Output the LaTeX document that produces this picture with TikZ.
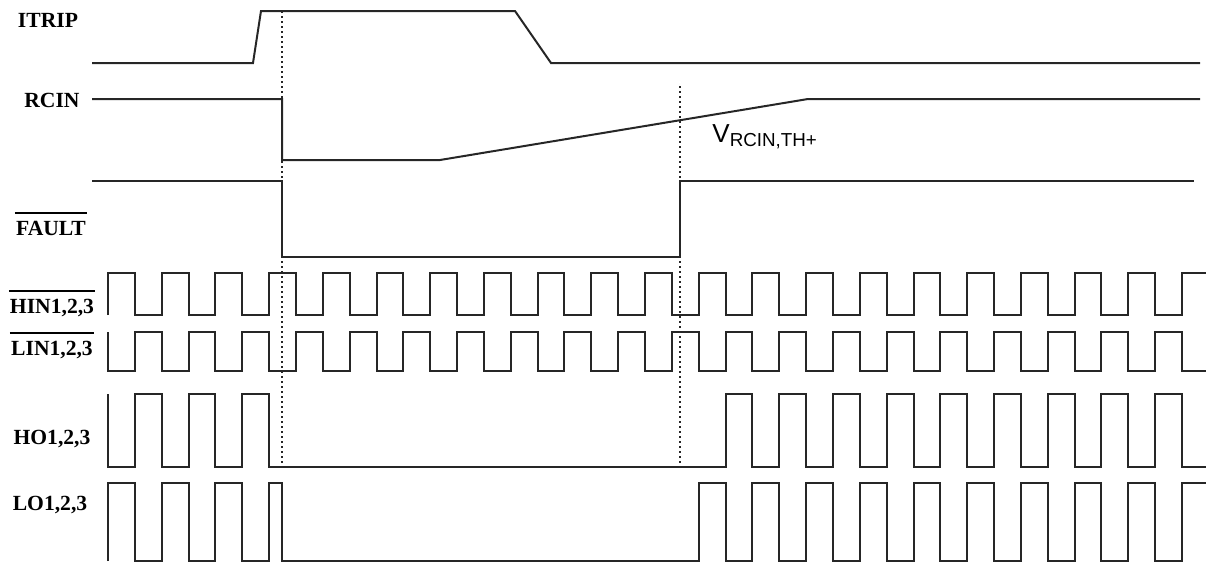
\documentclass[tikz,border=0pt]{standalone}
\usepackage{fontspec}
\setmainfont{Liberation Serif}
\newfontfamily\arialfont{Liberation Sans}
\usetikzlibrary{positioning}
% bar over an active-low signal name
\newcommand{\barname}[1]{\vbox{\hrule height 0.7pt\kern 3.6pt\hbox{\kern0.6pt#1\kern0.6pt}}}

\begin{document}
\begin{tikzpicture}[x=0.5pt, y=-0.5pt,
    sig/.style={line width=1pt, black!85, line join=miter},
    cutline/.style={line width=1.1pt, black!85, dash pattern=on 1.2pt off 1.3pt},
    lbl/.style={font=\fontsize{10.8}{12}\selectfont\bfseries, inner sep=0pt}]
    \def\xs{108} \def\hw{26.85}
    \useasboundingbox (0,0) rectangle (1208,563);
    % Signal names
    \node[lbl] (itrip) at (48,20) {ITRIP};
    \node[lbl] (rcin) at (52,100) {RCIN};
    \node[lbl, anchor=base] (fault) at (51,235) {\barname{FAULT}};
    \node[lbl, anchor=base] (hin) at (52,313) {\barname{HIN1,2,3}};
    \node[lbl, anchor=base] (lin) at (52,355) {\barname{LIN1,2,3}};
    \node[lbl] (ho) at (52,439) {HO1,2,3};
    \node[lbl] (lo) at (50,505) {LO1,2,3};
    % Threshold label
    \node[font=\arialfont\fontsize{13}{14}\selectfont, inner sep=0pt, anchor=base west] (vth)
        at (712,142) {V\raisebox{-2pt}{\fontsize{9.4}{10}\selectfont RCIN,TH+}};
    % ITRIP
    \draw[sig] (92,63) -- (253,63) -- (261,11) -- (515,11) -- (551,63) -- (1200,63);
    % RCIN
    \draw[sig] (92,99) -- (282,99) -- (282,160) -- (440,160) -- (808,99) -- (1200,99);
    % FAULT
    \draw[sig] (92,181) -- (282,181) -- (282,257) -- (680,257) -- (680,181) -- (1194,181);
    % HIN
    \draw[sig] (\xs,315) \foreach \k in {1,...,20} {-- ++(0,-42) -- ++(\hw,0) -- ++(0,42) -- ++(\hw,0)}
        -- ++(0,-42) -- (1206,273);
    % LIN
    \draw[sig] (\xs,332) \foreach \k in {1,...,20} {-- ++(0,39) -- ++(\hw,0) -- ++(0,-39) -- ++(\hw,0)}
        -- ++(0,39) -- (1206,371);
    % HO
    \draw[sig] (\xs,394) -- (\xs,467) \foreach \k in {1,2,3} {-- ++(\hw,0) -- ++(0,-73) -- ++(\hw,0) -- ++(0,73)}
        -- (725.55,467) \foreach \k in {1,...,8} {-- ++(0,-73) -- ++(\hw,0) -- ++(0,73) -- ++(\hw,0)}
        -- ++(0,-73) -- ++(\hw,0) -- ++(0,73) -- (1206,467);
    % LO
    \draw[sig] (\xs,561) \foreach \k in {1,2,3} {-- ++(0,-78) -- ++(\hw,0) -- ++(0,78) -- ++(\hw,0)}
        -- ++(0,-78) -- (282,483) -- (282,561) -- (698.7,561)
        \foreach \k in {1,...,9} {-- ++(0,-78) -- ++(\hw,0) -- ++(0,78) -- ++(\hw,0)}
        -- ++(0,-78) -- (1206,483);
    % Trip and release instants
    \draw[cutline] (282,11) -- (282,463);
    \draw[cutline] (680,86) -- (680,467);
\end{tikzpicture}
\end{document}
